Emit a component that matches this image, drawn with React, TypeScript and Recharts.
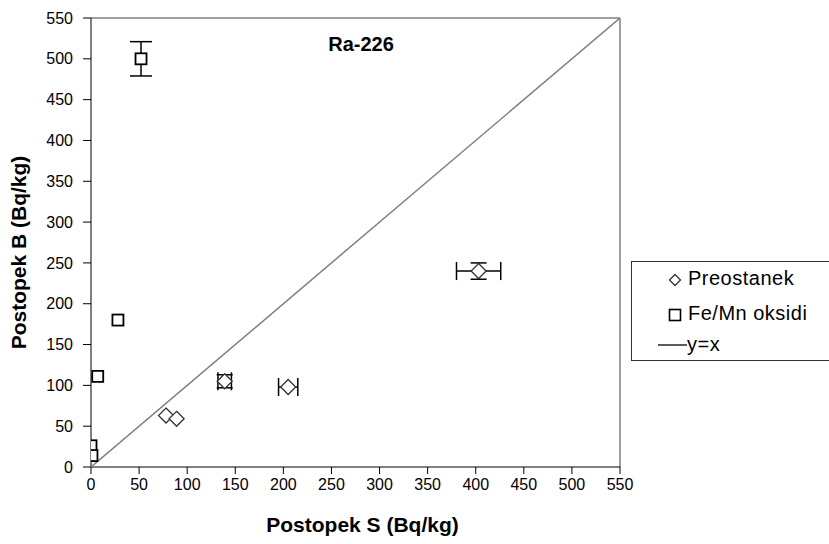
import React from 'react';
import { ScatterChart, Scatter, XAxis, YAxis, ErrorBar, ReferenceLine } from 'recharts';

// Ra-226 comparison, Postopek S vs Postopek B (Bq/kg)
const ticks = [0, 50, 100, 150, 200, 250, 300, 350, 400, 450, 500, 550];

const preX = [78, 89, 139, 205, 403];
const preY = [63, 59, 105, 98, 240];
const preXErr = [0, 0, 7, 10, 23];
const preYErr = [0, 0, 8, 0, 10];

const feX = [52, 28, 7, 0, 1];
const feY = [500, 180, 111, 26, 14];
const feXErr = [0, 0, 0, 0, 0];
const feYErr = [21, 0, 0, 0, 0];

const lineX = [0, 550];
const lineY = [0, 550];

const FONT = 'Arial, "Liberation Sans", sans-serif';

const toRows = (xs: number[], ys: number[], ex: number[], ey: number[]) =>
  xs.map((x, i) => ({ x, y: ys[i], ex: ex[i], ey: ey[i] }));

const preData = toRows(preX, preY, preXErr, preYErr);
const feData = toRows(feX, feY, feXErr, feYErr);
const preErrData = preData.filter((d) => d.ex > 0 || d.ey > 0);
const feErrData = feData.filter((d) => d.ex > 0 || d.ey > 0);
const lineData = lineX.map((x, i) => ({ x, y: lineY[i] }));

const Diamond = (props: any) => {
  const { cx, cy } = props;
  const r = 7.5;
  return (
    <polygon
      points={`${cx},${cy - r} ${cx + r},${cy} ${cx},${cy + r} ${cx - r},${cy}`}
      fill="#fff"
      stroke="#333"
      strokeWidth={1.3}
    />
  );
};

const Square = (props: any) => {
  const { cx, cy } = props;
  return <rect x={cx - 5.5} y={cy - 5.5} width={11} height={11} fill="#fff" stroke="#000" strokeWidth={1.8} />;
};

const Nothing = () => <g />;

const LegendBox = () => (
  <div
    style={{
      position: 'absolute',
      left: 631,
      top: 261,
      border: '1px solid #333',
      background: '#fff',
      width: 200,
      height: 100,
      fontFamily: FONT,
      fontSize: 20,
      letterSpacing: 0.5,
      color: '#000',
      boxSizing: 'border-box',
    }}
  >
    <svg width={60} height={99} style={{ position: 'absolute', left: 0, top: 0 }}>
      <polygon points="43,12.5 48.5,18 43,23.5 37.5,18" fill="#fff" stroke="#333" strokeWidth={1.3} />
      <rect x={37.5} y={47.5} width={11} height={11} fill="#fff" stroke="#000" strokeWidth={1.6} />
      <line x1={26} y1={83} x2={55} y2={83} stroke="#000" strokeWidth={1.3} />
    </svg>
    <div style={{ position: 'absolute', left: 56, top: 5 }}>Preostanek</div>
    <div style={{ position: 'absolute', left: 56, top: 40 }}>Fe/Mn oksidi</div>
    <div style={{ position: 'absolute', left: 55, top: 71 }}>y=x</div>
  </div>
);

const YTitle = (props: any) => {
  const vb = props.viewBox;
  const cy = vb.y + vb.height / 2 + 10;
  return (
    <text
      x={18}
      y={cy}
      transform={`rotate(-90, 18, ${cy})`}
      textAnchor="middle"
      dominantBaseline="central"
      fontFamily={FONT}
      fontWeight="bold"
      fontSize={21}
      fill="#000"
    >
      Postopek B (Bq/kg)
    </text>
  );
};

const XTitle = (props: any) => {
  const vb = props.viewBox;
  return (
    <text
      x={vb.x + vb.width / 2 + 7}
      y={vb.y + 65}
      textAnchor="middle"
      fontFamily={FONT}
      fontWeight="bold"
      fontSize={21}
      fill="#000"
    >
      Postopek S (Bq/kg)
    </text>
  );
};

export default function App() {
  return (
    <div style={{ position: 'absolute', left: 0, top: 0, width: 829, height: 544, overflow: 'hidden', background: '#fff' }}>
      <ScatterChart width={829} height={544} margin={{ top: 18, right: 209, bottom: 47, left: 31 }}>
        <XAxis
          type="number"
          dataKey="x"
          domain={[0, 550]}
          ticks={ticks}
          interval={0}
          allowDataOverflow
          height={30}
          stroke="#000"
          tickSize={7}
          tickMargin={5}
          tick={{ fill: '#000', fontSize: 16, fontFamily: FONT }}
          label={<XTitle />}
        />
        <YAxis
          type="number"
          dataKey="y"
          domain={[0, 550]}
          ticks={ticks}
          interval={0}
          allowDataOverflow
          width={60}
          stroke="#000"
          tickSize={8}
          tickMargin={10}
          tick={{ fill: '#000', fontSize: 16, fontFamily: FONT }}
          label={<YTitle />}
        />
        <ReferenceLine y={550} stroke="#808080" strokeWidth={1.5} />
        <ReferenceLine x={550} stroke="#808080" strokeWidth={1.5} />
        <Scatter
          name="y=x"
          data={lineData}
          line={{ stroke: '#808080', strokeWidth: 1.5 }}
          lineType="joint"
          shape={Nothing}
          isAnimationActive={false}
        />
        <Scatter name="preErr" data={preErrData} shape={Nothing} isAnimationActive={false}>
          <ErrorBar dataKey="ex" direction="x" width={9} stroke="#000" strokeWidth={1.5} />
          <ErrorBar dataKey="ey" direction="y" width={8} stroke="#000" strokeWidth={1.5} />
        </Scatter>
        <Scatter name="feErr" data={feErrData} shape={Nothing} isAnimationActive={false}>
          <ErrorBar dataKey="ey" direction="y" width={11} stroke="#000" strokeWidth={1.5} />
        </Scatter>
        <Scatter name="Preostanek" data={preData} shape={Diamond} isAnimationActive={false} />
        <Scatter name="Fe/Mn oksidi" data={feData} shape={Square} isAnimationActive={false} />
      </ScatterChart>
      <LegendBox />
      <div
        style={{
          position: 'absolute',
          left: 361,
          top: 33,
          transform: 'translateX(-50%)',
          fontFamily: FONT,
          fontWeight: 'bold',
          fontSize: 20,
          color: '#000',
          whiteSpace: 'nowrap',
        }}
      >
        Ra-226
      </div>
    </div>
  );
}
